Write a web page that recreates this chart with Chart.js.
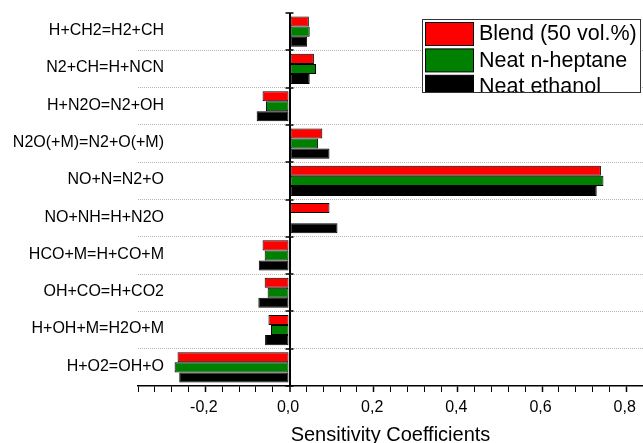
<!DOCTYPE html>
<html>
<head>
<meta charset="utf-8">
<script src="https://cdn.jsdelivr.net/npm/chart.js@4/dist/chart.umd.min.js"></script>
<style>
  html, body { margin: 0; padding: 0; background: #fff; }
  #wrap { width: 643px; height: 443px; position: relative; }
</style>
</head>
<body>
<div id="wrap"><canvas id="sensChart"></canvas></div>
<script>
// Reactions (top to bottom)
const reactions = [
    'H+CH2=H2+CH',
    'N2+CH=H+NCN',
    'H+N2O=N2+OH',
    'N2O(+M)=N2+O(+M)',
    'NO+N=N2+O',
    'NO+NH=H+N2O',
    'HCO+M=H+CO+M',
    'OH+CO=H+CO2',
    'H+OH+M=H2O+M',
    'H+O2=OH+O'
];

// Sensitivity coefficients
const blendValues   = [0.046, 0.058, -0.064, 0.078, 0.740, 0.095, -0.064, -0.059, -0.050, -0.266];
const heptaneValues = [0.048, 0.063, -0.056, 0.068, 0.746, null,  -0.059, -0.052, -0.044, -0.273];
const ethanolValues = [0.042, 0.048, -0.078, 0.095, 0.730, 0.114, -0.073, -0.074, -0.058, -0.262];

const seriesNames = ['Blend (50 vol.%)', 'Neat n-heptane', 'Neat ethanol'];
const seriesColors = ['#ff0000', '#008000', '#000000'];

// x axis
const xMin = -0.36;
const xMax = 0.84;
const xStep = 0.04;
const xLabelStep = 0.2;

const FONT = '"Liberation Sans", Arial, Helvetica, sans-serif';

// reaction labels, zero axis ticks and the boxed legend
const extrasPlugin = {
    id: 'extras',
    afterDraw(chart) {
        const ctx = chart.ctx;
        const xs = chart.scales.x;
        const ys = chart.scales.y;
        const x0 = xs.getPixelForValue(0);

        ctx.save();
        // category labels, right aligned a bit inside the plot area
        ctx.fillStyle = '#000';
        ctx.font = '16px ' + FONT;
        ctx.textAlign = 'right';
        ctx.textBaseline = 'middle';
        reactions.forEach((r, i) => {
            ctx.fillText(r, chart.chartArea.left + 26, ys.getPixelForValue(i) - 1);
        });

        // small ticks crossing the zero axis at category borders
        ctx.strokeStyle = '#000';
        ctx.lineWidth = 1.5;
        for (let i = 0; i <= reactions.length; i++) {
            const y = Math.round(ys.getPixelForValue(i - 0.5));
            ctx.beginPath();
            ctx.moveTo(x0 - 4, y);
            ctx.lineTo(x0 + 4, y);
            ctx.stroke();
        }
        ctx.restore();

        // legend box (last row is cut by the frame, as in the original)
        const bx = 422.5, by = 19.5, bw = 218, bh = 73;
        ctx.save();
        ctx.fillStyle = '#fff';
        ctx.fillRect(bx, by, bw, bh);
        ctx.beginPath();
        ctx.rect(bx, by, bw, bh);
        ctx.clip();
        ctx.font = '21.5px ' + FONT;
        ctx.textAlign = 'left';
        ctx.textBaseline = 'alphabetic';
        chart.data.datasets.forEach((ds, i) => {
            const ry = 22.5 + i * 26.4;
            ctx.fillStyle = ds.backgroundColor;
            ctx.fillRect(425.5, ry, 48, 23);
            ctx.strokeStyle = '#000';
            ctx.lineWidth = 1;
            ctx.strokeRect(425.5, ry, 48, 23);
            ctx.fillStyle = '#000';
            ctx.fillText(ds.label, 479, ry + 17.7);
        });
        ctx.restore();
        ctx.save();
        ctx.strokeStyle = '#333';
        ctx.lineWidth = 1;
        ctx.strokeRect(bx, by, bw, bh);
        ctx.restore();
    }
};

const datasets = [blendValues, heptaneValues, ethanolValues].map((vals, i) => ({
    label: seriesNames[i],
    data: vals,
    backgroundColor: seriesColors[i],
    borderColor: '#000',
    borderWidth: 1,
    borderSkipped: false,
    categoryPercentage: 0.81,
    barPercentage: 1.0
}));

const isMajor = (v) => Math.abs(v / xLabelStep - Math.round(v / xLabelStep)) < 1e-6;

new Chart(document.getElementById('sensChart'), {
    type: 'bar',
    data: { labels: reactions, datasets: datasets },
    options: {
        indexAxis: 'y',
        responsive: true,
        maintainAspectRatio: false,
        animation: false,
        layout: { padding: { top: 13, right: 0, bottom: 0, left: 0 } },
        plugins: {
            legend: { display: false },
            tooltip: { enabled: false }
        },
        scales: {
            x: {
                type: 'linear',
                min: xMin,
                max: xMax,
                afterFit: (s) => {
                    s.height = 57;
                    s.paddingLeft = 0;
                    s.paddingRight = 0;
                },
                afterBuildTicks: (s) => {
                    const t = [];
                    for (let k = 0; k <= Math.round((xMax - xMin) / xStep); k++) {
                        t.push({ value: +(xMin + k * xStep).toFixed(2) });
                    }
                    s.ticks = t;
                },
                ticks: {
                    autoSkip: false,
                    maxRotation: 0,
                    padding: 6,
                    labelOffset: -1.5,
                    color: '#000',
                    font: { family: FONT, size: 16 },
                    callback: (v) => isMajor(v) ? Number(v).toFixed(1).replace('.', ',') : ''
                },
                grid: {
                    drawOnChartArea: true,
                    color: (c) => (c.tick && Math.abs(c.tick.value) < 1e-9) ? '#000' : 'rgba(0,0,0,0)',
                    lineWidth: (c) => (c.tick && Math.abs(c.tick.value) < 1e-9) ? 2 : 1,
                    tickColor: '#000',
                    tickLength: 6,
                    tickWidth: (c) => (c.tick && isMajor(c.tick.value)) ? 1.5 : 1
                },
                border: { display: true, color: '#000', width: 1.5 },
                title: {
                    display: true,
                    text: 'Sensitivity Coefficients',
                    color: '#000',
                    font: { family: FONT, size: 20, lineHeight: 1 },
                    padding: { top: 0, bottom: -2 }
                }
            },
            y: {
                type: 'category',
                afterFit: (s) => { s.width = 138; },
                ticks: { display: false },
                grid: {
                    offset: true,
                    drawTicks: false,
                    color: (c) => (c.index > 0 && c.index < reactions.length) ? '#b4b4b4' : 'rgba(0,0,0,0)',
                    lineWidth: 1
                },
                border: { display: false, dash: [1, 1] }
            }
        }
    },
    plugins: [extrasPlugin]
});
</script>
</body>
</html>
